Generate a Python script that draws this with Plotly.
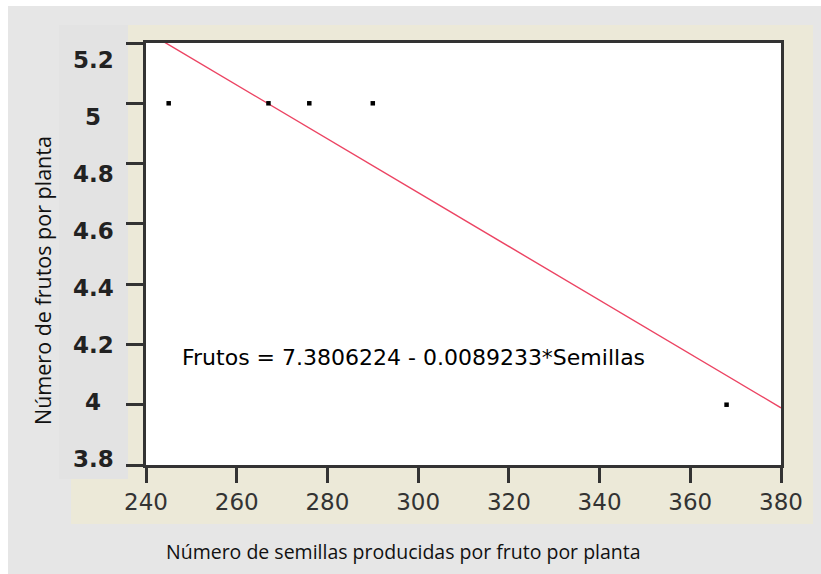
import plotly.graph_objects as go

# Seeds produced per fruit per plant vs. fruits per plant
semillas = [245, 267, 276, 290, 368]
frutos = [5, 5, 5, 5, 4]

# Fitted regression: Frutos = a + b * Semillas
intercepto = 7.3806224
pendiente = -0.0089233
x_rango = [240, 380]

x_ticks = [240, 260, 280, 300, 320, 340, 360, 380]
y_ticks = [3.8, 4.0, 4.2, 4.4, 4.6, 4.8, 5.0, 5.2]
y_tick_text = ["3.8", "4", "4.2", "4.4", "4.6", "4.8", "5", "5.2"]

W, H = 821, 574
L, R, T, B = 146, 40, 43, 109
PW, PH = W - L - R, H - T - B


def px(xp):
    return (xp - L) / PW


def py(yp):
    return (H - B - yp) / PH


fig = go.Figure()

linea_y = [intercepto + pendiente * v for v in x_rango]
fig.add_trace(go.Scatter(
    x=x_rango, y=linea_y, mode="lines",
    line=dict(color="#ec4463", width=1.4),
    showlegend=False, hoverinfo="skip",
))
fig.add_trace(go.Scatter(
    x=semillas, y=frutos, mode="markers",
    marker=dict(symbol="square", size=4.5, color="#000000"),
    showlegend=False,
))
# label axis for the y tick text column
fig.add_trace(go.Scatter(x=[], y=[], yaxis="y2", showlegend=False, hoverinfo="skip"))

shapes = [
    dict(type="rect", xref="paper", yref="paper", x0=px(0), x1=px(W), y0=py(0), y1=py(6),
         fillcolor="#ffffff", line_width=0, layer="below"),
    dict(type="rect", xref="paper", yref="paper", x0=px(0), x1=px(8), y0=py(0), y1=py(H),
         fillcolor="#ffffff", line_width=0, layer="below"),
    dict(type="rect", xref="paper", yref="paper", x0=px(71), x1=px(813), y0=py(25), y1=py(524),
         fillcolor="#ece9d8", line_width=0, layer="below"),
    dict(type="rect", xref="paper", yref="paper", x0=px(59), x1=px(128), y0=py(25), y1=py(479),
         fillcolor="#e3e3e3", line_width=0, layer="below"),
    # white plotting area
    dict(type="rect", xref="paper", yref="paper", x0=0, x1=1, y0=0, y1=1,
         fillcolor="#ffffff", line_width=0, layer="below"),
]

annotations = [
    dict(text="Frutos = %.7f - %.7f*Semillas" % (intercepto, -pendiente),
         x=247.5, y=4.158, xref="x", yref="y", xanchor="left", yanchor="middle",
         showarrow=False, font=dict(family="DejaVu Sans", size=22, color="#000000")),
    dict(text="Número de semillas producidas por fruto por planta",
         x=px(403), y=py(551), xref="paper", yref="paper", xanchor="center", yanchor="middle",
         showarrow=False, font=dict(family="Open Sans", size=19.5, color="#111111")),
    dict(text="Número de frutos por planta", textangle=-90,
         x=px(42), y=py(281), xref="paper", yref="paper", xanchor="center", yanchor="middle",
         showarrow=False, font=dict(family="Open Sans", size=21.5, color="#111111")),
]
for v, t in zip(y_ticks, y_tick_text):
    annotations.append(dict(
        text=t, x=px(93), y=v, xref="paper", yref="y2", xanchor="center", yanchor="middle",
        showarrow=False, font=dict(family="DejaVu Sans", size=23, color="#222222", weight="bold"),
    ))

fig.update_layout(
    width=W, height=H,
    margin=dict(l=L, r=R, t=T, b=B, pad=0),
    paper_bgcolor="#e6e6e6",
    plot_bgcolor="rgba(0,0,0,0)",
    shapes=shapes,
    annotations=annotations,
    xaxis=dict(
        range=x_rango, tickvals=x_ticks, ticks="outside", ticklen=15, tickwidth=2.5,
        tickcolor="#333333", showline=True, linecolor="#333333", linewidth=2.5, mirror=True,
        showgrid=False, zeroline=False,
        tickfont=dict(family="DejaVu Sans", size=23, color="#333333"),
    ),
    yaxis=dict(
        range=[3.8, 5.2], tickvals=y_ticks, ticks="outside", ticklen=17, tickwidth=2.5,
        tickcolor="#333333", showline=True, linecolor="#333333", linewidth=2.5, mirror=True,
        showgrid=False, zeroline=False, showticklabels=False,
    ),
    yaxis2=dict(
        overlaying="y", range=[3.7789, 5.2596], visible=False,
    ),
)

fig.write_html("out.html")
